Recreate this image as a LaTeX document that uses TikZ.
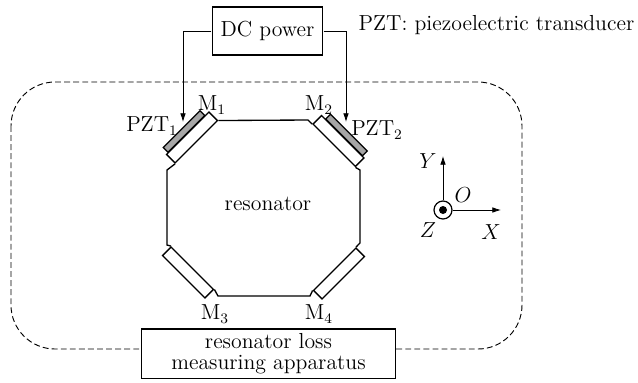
\documentclass[tikz,border=0pt]{standalone}
\usepackage{amsmath}
\usepackage{tikz}
\usetikzlibrary{arrows.meta}
\tikzset{basic/.style={draw,line width=1pt,fill=white,align=center,inner sep=0pt}}
\tikzset{lab/.style={scale=1.36}}
\tikzset{mirror/.style={basic,minimum width=45pt,minimum height=9pt}}
\tikzset{pzt/.style={basic,fill=black!35,minimum width=39pt,minimum height=5pt}}
\begin{document}
\begin{tikzpicture}[>={Latex[length=6.5pt,width=4.2pt]},x=0.75pt,y=-0.75pt,font=\fontsize{12}{14}\selectfont]
	\tikzstyle{wire}=[draw,line width=0.6pt]
	\tikzstyle{edgeline}=[draw,line width=1pt]
	\useasboundingbox (0,0) rectangle (638,382);

	% Enclosure goes first, the lower box covers a part of it
	\draw[line width=0.7pt,dash pattern=on 4.4pt off 2.4pt,rounded corners=33pt] (11,82) rectangle (522,349);

	% Boxes and the note
	\node (power) [basic,lab,minimum width=61pt,minimum height=26.5pt] at (267.5,31) {DC power};
	\node (loss) [basic,lab,minimum width=140.4pt,minimum height=27.2pt] at (268.5,353.5) {resonator loss\\[-2.4pt]measuring apparatus};
	\node (note) [lab] at (496.5,25) {PZT: piezoelectric transducer};
	\node (res) [lab] at (268,204) {resonator};

	% Mirrors and transducers
	\node (m1) [mirror,rotate=45] at (192,137.5) {};
	\node (m2) [mirror,rotate=-45] at (338.5,141) {};
	\node (m3) [mirror,rotate=-45] at (188,272.5) {};
	\node (m4) [mirror,rotate=45] at (339,273.5) {};
	\node (pzt1) [pzt,rotate=45] at (184,131.5) {};
	\node (pzt2) [pzt,rotate=-45] at (346.5,135) {};

	% Labels of the mirrors
	\node (l_m1) [lab] at (212,105) {M$_1$};
	\node (l_m2) [lab] at (319,105) {M$_2$};
	\node (l_m3) [lab] at (215,314) {M$_3$};
	\node (l_m4) [lab] at (319,314) {M$_4$};
	\node (l_pzt1) [lab] at (152,126) {PZT$_1$};
	\node (l_pzt2) [lab] at (377,130) {PZT$_2$};

	% Corners of the resonator
	\coordinate (r_1) at (308,120);
	\coordinate (r_2) at (360,170);
	\coordinate (r_3) at (360,243);
	\coordinate (r_4) at (310,296);
	\coordinate (r_5) at (218,296);
	\coordinate (r_6) at (167,245);
	\coordinate (r_7) at (167,170);

	\path[edgeline]
		(m1.south east) -- (r_1) -- (m2.south west)
		(m2.south east) -- (r_2) -- (r_3) -- (m4.north east)
		(m4.north west) -- (r_4) -- (r_5) -- (m3.north east)
		(m3.north west) -- (r_6) -- (r_7) -- (m1.south west);

	% Leads from the power box
	\coordinate (tip_1) at (183,122);
	\coordinate (tip_2) at (346,122);
	\draw[wire,->] (power.west) -| (tip_1);
	\draw[wire,->] (power.east) -| (tip_2);

	% Axes
	\node (o) [circle,draw,line width=0.9pt,minimum size=13.5pt,inner sep=0pt] at (443,210) {};
	\node (dot) [circle,fill=black,minimum size=6pt,inner sep=0pt] at (443,210) {};
	\coordinate (y_end) at (443,156);
	\coordinate (x_end) at (501,210);
	\draw[wire,->] (o.north) -- (y_end);
	\draw[wire,->] (o.east) -- (x_end);
	\node (l_y) [lab] at (428,161) {$Y$};
	\node (l_o) [lab] at (463,195) {$O$};
	\node (l_z) [lab] at (428,230) {$Z$};
	\node (l_x) [lab] at (491,232) {$X$};
\end{tikzpicture}
\end{document}
